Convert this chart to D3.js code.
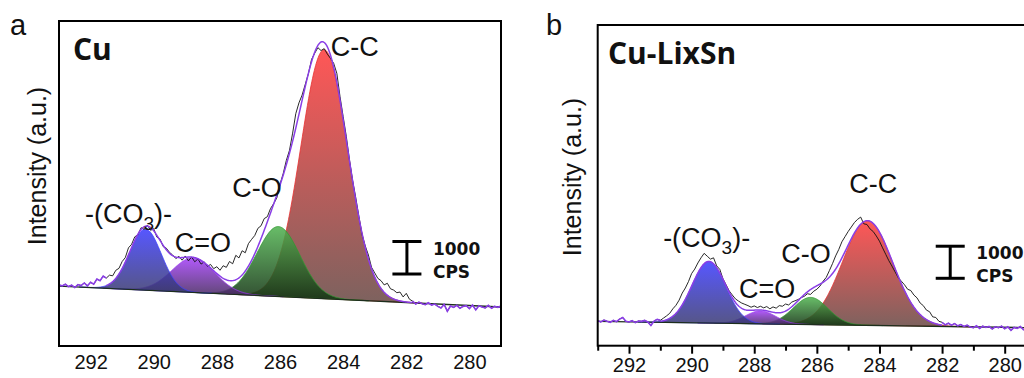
<!DOCTYPE html>
<html><head><meta charset="utf-8">
<script src="https://cdn.jsdelivr.net/npm/d3@7/dist/d3.min.js"></script>
<style>body{margin:0;background:#fff}svg{display:block}</style>
</head><body>
<svg id="chart" width="1024" height="378"></svg>
<script>
// ---------------- DATA ----------------
const tickLabels = [292, 290, 288, 286, 284, 282, 280];
const minorTickValues = [293, 291, 289, 287, 285, 283, 281, 279];
const energyStart = 293.0;   // binding energy of first raw sample (eV)
const energyStep = 0.1;      // spacing of raw samples (eV), descending
const peakNames = ["CO3", "C=O", "C-O", "C-C"];

// Panel a (Cu) raw spectrum, CPS
const rawA = [
  1880,1850,1900,1830,1870,1800,1890,1860,1940,1850,
  1960,1900,2060,2010,2150,2090,2180,2160,2330,2390,
  2600,2720,3020,3130,3360,3420,3640,3590,3720,3560,
  3610,3350,3290,3060,3010,2880,2800,2690,2760,2640,
  2770,2620,2740,2590,2680,2520,2590,2450,2510,2380,
  2440,2330,2470,2420,2600,2530,2790,2710,2930,2870,
  3150,3280,3400,3620,3700,3920,3980,4230,4380,4560,
  4980,5300,5710,6020,6550,7150,7480,7720,8050,8380,
  8820,9010,9180,9090,9150,8980,8850,8700,8390,7680,
  7060,6450,5730,5090,4560,3980,3420,3080,2800,2420,
  2250,2080,2010,1880,1930,1760,1720,1640,1660,1510,
  1620,1440,1380,1290,1350,1300,1270,1330,1260,1290,
  1220,1170,1280,1070,1230,1190,1250,1160,1220,1240,
  1150,1260,1110,1240,1200,1170,1250,1160,1220,1190,
  1230
];
const centersA = [290.26, 288.75, 286.05, 284.60];
const heightsA = [1880, 1060, 2150, 7660];
const sigmasA  = [0.50, 0.68, 0.68, 0.74];
const baselineA = [1844, 1200];        // CPS at 293 eV and 279 eV
const fitRangeA = [281.8, 291.5];

// Panel b (Cu-LixSn) raw spectrum, CPS
const rawB = [
  780,740,800,760,730,790,750,830,880,760,
  740,780,720,770,760,790,740,630,770,820,
  790,860,930,1010,1150,1260,1420,1640,1800,2000,
  2250,2390,2580,2740,2880,2790,2700,2740,2490,2380,
  2090,1900,1710,1580,1460,1390,1330,1290,1250,1200,
  1240,1190,1230,1180,1220,1150,1210,1170,1250,1230,
  1300,1270,1360,1400,1440,1500,1540,1620,1600,1700,
  1760,1860,2010,2130,2340,2560,2800,3000,3240,3400,
  3560,3700,3840,3940,4010,3800,3780,3640,3560,3420,
  3260,3050,2850,2650,2480,2300,2120,2010,1900,1760,
  1720,1580,1490,1330,1250,1110,1060,900,880,760,
  730,650,700,640,690,620,660,600,640,580,
  560,620,540,610,570,600,520,590,560,610,
  530,590,480,570,540,600,500,560,580,520,
  560
];
const centersB = [289.45, 287.80, 286.20, 284.38];
const heightsB = [1920, 400, 845, 3260];
const sigmasB  = [0.54, 0.48, 0.55, 0.80];
const baselineB = [756, 560];
const fitRangeB = [282.0, 291.0];

// ---------------- STYLE / LAYOUT ----------------
const peakColors = [
  {top: "#3b3bff", bottom: "#3a3a76", line: "#4040ff"},
  {top: "#a43ff8", bottom: "#4e2a6c", line: "#9b3cf0"},
  {top: "#4fb24f", bottom: "#123612", line: "#2f9a2f"},
  {top: "#ff3b3b", bottom: "#6a4844", line: "#e83030"}
];
const envColor = "#8a3ee6";
const svg = d3.select("#chart");
const defs = svg.append("defs");
const font = "'Liberation Sans', Arial, sans-serif";
const boldFont = "'Open Sans', 'DejaVu Sans', sans-serif";
const barFont = "'DejaVu Sans', sans-serif";

const panels = [
  {id: "a", raw: rawA, centers: centersA, heights: heightsA, sigmas: sigmasA,
   baseline: baselineA, fitRange: fitRangeA,
   left: 59, right: 501, top: 21, bottom: 346, ticks: false,
   letter: {x: 10, y: 35, t: "a"}, title: {x: 73, y: 60, t: "Cu"},
   ylab: {x: 46, y: 166},
   labels: [{e: 290.8, c: 3794}, {e: 288.44, c: 2902}, {e: 286.73, c: 4594}, {e: 283.63, c: 8923}],
   bar: {e: 281.98, c: 2215}, tickPad: 9},
  {id: "b", raw: rawB, centers: centersB, heights: heightsB, sigmas: sigmasB,
   baseline: baselineB, fitRange: fitRangeB,
   left: 597.7, right: 1036, top: 25, bottom: 345.7, ticks: true,
   letter: {x: 546, y: 35, t: "b"}, title: {x: 608, y: 63.5, t: "Cu-LixSn"},
   ylab: {x: 581, y: 177},
   labels: [{e: 289.52, c: 3087}, {e: 287.59, c: 1478}, {e: 286.35, c: 2569}, {e: 284.2, c: 4752}],
   bar: {e: 281.74, c: 2102}, tickPad: 4}
];

panels.forEach(p => {
  const g = svg.append("g");
  const x = d3.scaleLinear().domain([293, 279]).range([p.left, p.right]);
  const y = d3.scaleLinear().domain([0, 10000]).range([p.bottom, p.top]);
  const base = d3.scaleLinear().domain([293, 279]).range(p.baseline);
  const comp = (k, e) => p.heights[k] * Math.exp(-((e - p.centers[k]) ** 2) / (2 * p.sigmas[k] ** 2));
  const energies = p.raw.map((_, i) => +(energyStart - i * energyStep).toFixed(2));
  const rawPts = p.raw.map((v, i) => [energies[i], v]);

  // components: draw C-C first, then C-O, C=O, CO3
  [3, 2, 1, 0].forEach(k => {
    const lo = Math.max(279, p.centers[k] - 4.2 * p.sigmas[k]);
    const hi = Math.min(293, p.centers[k] + 4.2 * p.sigmas[k]);
    const es = d3.range(lo, hi + 1e-9, 0.02);
    const gid = `grad-${p.id}-${k}`;
    const lg = defs.append("linearGradient").attr("id", gid)
      .attr("gradientUnits", "userSpaceOnUse")
      .attr("x1", 0).attr("x2", 0)
      .attr("y1", y(base(p.centers[k]) + p.heights[k]))
      .attr("y2", y(base(p.centers[k])));
    lg.append("stop").attr("offset", 0).attr("stop-color", peakColors[k].top);
    lg.append("stop").attr("offset", 1).attr("stop-color", peakColors[k].bottom);
    g.append("path").datum(es)
      .attr("d", d3.area().x(e => x(e)).y0(e => y(base(e))).y1(e => y(base(e) + comp(k, e))))
      .attr("fill", `url(#${gid})`).attr("fill-opacity", 0.86)
      .attr("stroke", peakColors[k].line).attr("stroke-width", 0.9).attr("stroke-opacity", 0.9);
  });

  // baseline
  g.append("path").datum([293, 279])
    .attr("d", d3.line().x(e => x(e)).y(e => y(base(e))))
    .attr("stroke", "#1d2e1d").attr("stroke-width", 1.3).attr("fill", "none");

  // raw data (black)
  g.append("path").datum(rawPts)
    .attr("d", d3.line().x(d => x(d[0])).y(d => y(d[1])))
    .attr("stroke", "#111").attr("stroke-width", 0.9).attr("fill", "none");

  // envelope (purple): fit sum in fit range, raw data outside
  const envEs = d3.range(p.fitRange[0], p.fitRange[1] + 1e-9, 0.02);
  g.append("path").datum(envEs)
    .attr("d", d3.line().x(e => x(e)).y(e => y(base(e) + d3.sum([0, 1, 2, 3], k => comp(k, e)))))
    .attr("stroke", envColor).attr("stroke-width", 1.5).attr("fill", "none");
  const leftRaw = rawPts.filter(d => d[0] >= p.fitRange[1] - 1e-6);
  const rightRaw = rawPts.filter(d => d[0] <= p.fitRange[0] + 1e-6);
  [leftRaw, rightRaw].forEach(seg => {
    g.append("path").datum(seg)
      .attr("d", d3.line().x(d => x(d[0])).y(d => y(d[1])))
      .attr("stroke", envColor).attr("stroke-width", 1.6).attr("fill", "none");
  });

  // frame
  g.append("rect").attr("x", p.left).attr("y", p.top)
    .attr("width", p.right - p.left).attr("height", p.bottom - p.top)
    .attr("fill", "none").attr("stroke", "#000").attr("stroke-width", 2);

  // x axis
  const ax = g.append("g").attr("transform", `translate(0,${p.bottom})`)
    .call(d3.axisBottom(x).tickValues(tickLabels).tickFormat(d3.format("d"))
      .tickSize(p.ticks ? 8 : 0).tickPadding(p.tickPad));
  ax.select(".domain").remove();
  ax.selectAll("line").attr("stroke", "#000").attr("stroke-width", 2);
  ax.selectAll("text").attr("font-family", font).attr("font-size", 20).attr("fill", "#111");
  if (p.ticks) {
    const mx = g.append("g").attr("transform", `translate(0,${p.bottom})`)
      .call(d3.axisBottom(x).tickValues(minorTickValues).tickFormat("").tickSize(5));
    mx.select(".domain").remove();
    mx.selectAll("line").attr("stroke", "#000").attr("stroke-width", 2);
  }

  // y label
  g.append("text").attr("transform", `translate(${p.ylab.x},${p.ylab.y}) rotate(-90)`)
    .attr("text-anchor", "middle").attr("font-family", font).attr("font-size", 25)
    .attr("fill", "#111").text("Intensity (a.u.)");

  // panel letter and title
  g.append("text").attr("x", p.letter.x).attr("y", p.letter.y)
    .attr("font-family", font).attr("font-size", 29).attr("fill", "#111").text(p.letter.t);
  g.append("text").attr("x", p.title.x).attr("y", p.title.y)
    .attr("font-family", boldFont).attr("font-weight", 700).attr("font-size", 30)
    .attr("fill", "#111").text(p.title.t);

  // peak labels
  p.labels.forEach((L, k) => {
    const t = g.append("text").attr("x", x(L.e)).attr("y", y(L.c))
      .attr("text-anchor", "middle").attr("font-family", font).attr("font-size", 27).attr("fill", "#111");
    if (peakNames[k] === "CO3") {
      t.append("tspan").text("-(CO");
      t.append("tspan").attr("dy", 7).attr("font-size", 19).text("3");
      t.append("tspan").attr("dy", -7).text(")-");
    } else {
      t.text(peakNames[k]);
    }
  });

  // scale bar: 1000 CPS
  const bx = x(p.bar.e), by0 = y(p.bar.c), by1 = y(p.bar.c + 1000);
  const sb = g.append("g").attr("stroke", "#000").attr("stroke-width", 3);
  sb.append("line").attr("x1", bx).attr("x2", bx).attr("y1", by0).attr("y2", by1);
  sb.append("line").attr("x1", bx - 14.5).attr("x2", bx + 14.5).attr("y1", by0).attr("y2", by0);
  sb.append("line").attr("x1", bx - 14.5).attr("x2", bx + 14.5).attr("y1", by1).attr("y2", by1);
  g.append("text").attr("x", bx + 26).attr("y", by1 + 13)
    .attr("font-family", barFont).attr("font-weight", 700).attr("font-size", 17).attr("fill", "#111").text("1000");
  g.append("text").attr("x", bx + 26).attr("y", by0 + 4)
    .attr("font-family", barFont).attr("font-weight", 700).attr("font-size", 17).attr("fill", "#111").text("CPS");
});
</script>
</body></html>
